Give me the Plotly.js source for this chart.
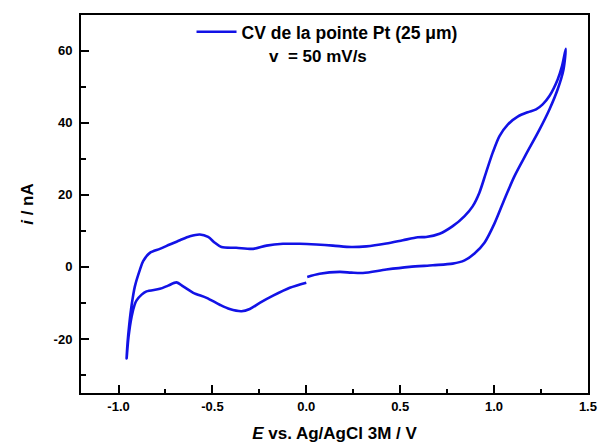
<!DOCTYPE html>
<html>
<head>
<meta charset="utf-8">
<script src="https://cdn.plot.ly/plotly-3.0.1.min.js"></script>
<style>html,body{margin:0;padding:0;background:#fff;}#chart{width:598px;height:445px;}</style>
</head>
<body>
<div id="chart"></div>
<script>
// Potential E (V vs Ag/AgCl 3M) and current i (nA), in scan order
const potentialE = [
  0.005, 0.071, 0.178, 0.240, 0.302, 0.426, 0.550, 0.674, 0.780, 0.843, 0.896, 0.949, 1.002, 1.055, 1.109, 1.170, 1.242, 1.295, 1.339, 1.370, 1.382,
  1.362, 1.339, 1.295, 1.259, 1.224, 1.179, 1.126, 1.073, 1.029, 0.993, 0.957, 0.922, 0.886, 0.843, 0.780, 0.710, 0.638, 0.594, 0.514, 0.426, 0.320, 0.240, 0.142, 0.054, -0.035, -0.124, -0.212, -0.283, -0.373, -0.452, -0.487, -0.523, -0.567, -0.620, -0.673, -0.727, -0.780, -0.833, -0.869, -0.886, -0.913, -0.930, -0.943, -0.952, -0.957,
  -0.947, -0.930, -0.915, -0.904, -0.877, -0.851, -0.780, -0.736, -0.691, -0.656, -0.602, -0.531, -0.461, -0.408, -0.345, -0.301, -0.248, -0.177, -0.088, 0.000
];
const currentI = [
  -2.8, -1.9, -1.4, -1.6, -1.7, -0.75, 0.0, 0.45, 0.9, 1.8, 3.7, 6.7, 12.0, 18.7, 25.2, 31.2, 38.1, 43.7, 49.3, 54.8, 60.5,
  55.7, 52.0, 47.4, 45.1, 43.7, 42.9, 41.7, 39.5, 36.3, 31.7, 26.1, 20.6, 16.8, 14.1, 11.3, 9.2, 8.3, 8.2, 7.4, 6.5, 5.7, 5.5, 5.9, 6.2, 6.4, 6.4, 5.9, 5.0, 5.3, 5.5, 6.7, 8.3, 9.0, 8.5, 7.4, 6.2, 5.0, 3.9, 1.6, -0.75, -5.4, -10.5, -16.0, -21.0, -25.4,
  -19.5, -13.7, -10.6, -9.3, -7.7, -6.8, -6.1, -5.2, -4.3, -5.4, -7.2, -8.6, -10.5, -11.7, -12.3, -11.7, -10.0, -8.0, -5.8, -4.4
];
const xTickVals = [-1.0, -0.5, 0.0, 0.5, 1.0, 1.5];
const xTickText = ['-1.0', '-0.5', '0.0', '0.5', '1.0', '1.5'];
const yTickVals = [-20, 0, 20, 40, 60];
const yTickText = ['-20', '0', '20', '40', '60'];
const seriesName = 'CV de la pointe Pt (25 \u03bcm)';
const scanRateText = 'v\u00a0\u00a0= 50 mV/s';
const xTitle = '<i>E</i> vs. Ag/AgCl 3M / V';
const yTitle = '<i>i</i> / nA';

const trace = {
  x: potentialE, y: currentI, type: 'scatter', mode: 'lines', name: seriesName,
  line: {color: 'rgb(18,18,230)', width: 2.6, shape: 'spline', smoothing: 0.8}
};
const fontFam = 'Liberation Sans, Arial, sans-serif';
const layout = {
  width: 598, height: 445,
  margin: {l: 81, r: 10, t: 15, b: 52},
  paper_bgcolor: '#fff', plot_bgcolor: '#fff',
  font: {family: fontFam, color: '#000'},
  showlegend: true,
  legend: {x: 0.218, y: 1.003, xanchor: 'left', yanchor: 'top', bgcolor: 'rgba(0,0,0,0)', itemwidth: 40,
           font: {family: fontFam, size: 17.5, color: '#000', weight: 'bold'}},
  xaxis: {
    range: [-1.2, 1.5005], tickmode: 'array', tickvals: xTickVals, ticktext: xTickText,
    showline: true, mirror: true, linecolor: '#000', linewidth: 2,
    ticks: 'inside', ticklen: 8, tickwidth: 2, tickcolor: '#000',
    showgrid: false, zeroline: false,
    tickfont: {family: fontFam, size: 13, weight: 'bold'},
    minor: {tickmode: 'linear', tick0: 0, dtick: 0.25, ticks: 'inside', ticklen: 4.5, tickwidth: 2, tickcolor: '#000', showgrid: false},
    title: {text: xTitle, font: {family: fontFam, size: 17, weight: 'bold'}, standoff: 15}
  },
  yaxis: {
    range: [-35, 69.9], tickmode: 'array', tickvals: yTickVals, ticktext: yTickText,
    showline: true, mirror: true, linecolor: '#000', linewidth: 2,
    ticks: 'inside', ticklen: 8, tickwidth: 2, tickcolor: '#000',
    showgrid: false, zeroline: false, ticklabelstandoff: 4,
    tickfont: {family: fontFam, size: 13, weight: 'bold'},
    minor: {tickmode: 'linear', tick0: 0, dtick: 10, ticks: 'inside', ticklen: 4.5, tickwidth: 2, tickcolor: '#000', showgrid: false},
    title: {text: yTitle, font: {family: fontFam, size: 17, weight: 'bold'}, standoff: 16}
  },
  annotations: [{
    xref: 'paper', yref: 'paper', x: 0.366, y: 0.889, xanchor: 'left', yanchor: 'middle',
    text: scanRateText, showarrow: false,
    font: {family: fontFam, size: 17, color: '#000', weight: 'bold'}
  }]
};
Plotly.newPlot('chart', [trace], layout, {staticPlot: true, displayModeBar: false});
</script>
</body>
</html>
